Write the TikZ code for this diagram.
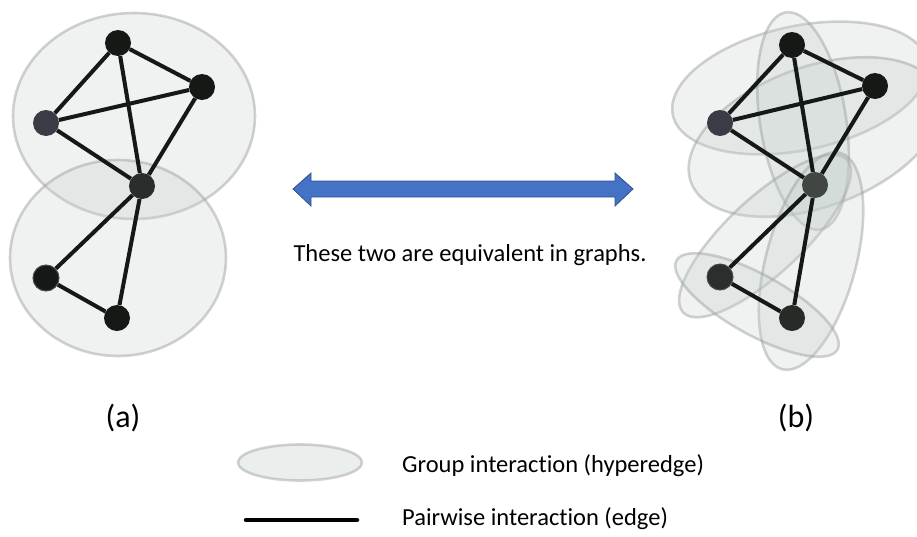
\documentclass[tikz,border=0pt]{standalone}
\usepackage{fontspec}
\setmainfont{Carlito}[Ligatures=NoCommon]
\pgfdeclarelayer{bg}
\pgfdeclarelayer{edgelayer}
\pgfsetlayers{bg,edgelayer,main}
\definecolor{hfill}{HTML}{C4CFCB}
\definecolor{hdraw}{HTML}{9A9C9C}
\definecolor{vdark}{HTML}{161816}
\definecolor{vblue}{HTML}{3A3B45}
\definecolor{vcenA}{HTML}{2A2D2B}
\definecolor{vcenB}{HTML}{414642}
\definecolor{vblB}{HTML}{2A2E2C}
\definecolor{vbotB}{HTML}{262B28}
\definecolor{vring}{HTML}{464850}
\definecolor{arrowblue}{HTML}{4472C4}
\definecolor{arrowedge}{HTML}{2F528F}
\tikzset{
  hyper/.style={fill=hfill, fill opacity=0.28, draw=hdraw, draw opacity=0.45, line width=2.6pt},
  vert/.style={circle, minimum size=26pt, inner sep=0pt, fill=#1},
  vert/.default=vdark,
  pair/.style={draw=vdark, line width=4pt},
  lbl/.style={font=\fontsize{24.5}{29}\selectfont, text=black, inner sep=0pt},
  big/.style={font=\fontsize{32}{38}\selectfont, text=black, inner sep=0pt},
  leg/.style={font=\fontsize{24.5}{29}\selectfont, text=black, inner sep=0pt, anchor=base west}
}
\begin{document}
\begin{tikzpicture}[x=1pt,y=-1pt]
\useasboundingbox (0,0) rectangle (917,536);
\clip (0,0) rectangle (917,536);
% ---------- graph (a) ----------
\node[vert] (a1) at (118,43) {};
\node[vert] (a2) at (202,87) {};
\node[vert=vblue] (a3) at (46,123) {};
\node[vert=vcenA] (a4) at (142,186) {};
\node[vert, draw=vring, line width=1pt] (a5) at (46,278) {};
\node[vert] (a6) at (117,318) {};
\begin{pgfonlayer}{edgelayer}
\draw[pair] (a1) -- (a2) (a1) -- (a3) (a1) -- (a4) (a3) -- (a2)
  (a3) -- (a4) (a2) -- (a4) (a4) -- (a5) (a4) -- (a6) (a5) -- (a6);
\end{pgfonlayer}
\begin{pgfonlayer}{bg}
\draw[hyper] (134,116) ellipse [x radius=121, y radius=103];
\draw[hyper] (118,258) ellipse [x radius=108, y radius=98];
\end{pgfonlayer}
% ---------- graph (b) ----------
\node[vert] (b1) at (792,45) {};
\node[vert] (b2) at (875,86) {};
\node[vert=vblue] (b3) at (720,123) {};
\node[vert=vcenB] (b4) at (815,185) {};
\node[vert=vblB, draw=vring, line width=1pt] (b5) at (720,277) {};
\node[vert=vbotB] (b6) at (792,318) {};
\begin{pgfonlayer}{edgelayer}
\draw[pair] (b1) -- (b2) (b1) -- (b3) (b1) -- (b4) (b3) -- (b2)
  (b3) -- (b4) (b2) -- (b4) (b4) -- (b5) (b4) -- (b6) (b5) -- (b6);
\end{pgfonlayer}
\begin{pgfonlayer}{bg}
\draw[hyper, rotate around={12:(800,88)}] (800,88) ellipse [x radius=130, y radius=62];
\draw[hyper, rotate around={20:(815,137)}] (815,137) ellipse [x radius=132, y radius=70];
\draw[hyper, rotate around={99:(803,121)}] (803,121) ellipse [x radius=110, y radius=43];
\draw[hyper, rotate around={43:(765,236)}] (765,236) ellipse [x radius=112, y radius=38];
\draw[hyper, rotate around={75:(811,261)}] (811,261) ellipse [x radius=112, y radius=45];
\draw[hyper, rotate around={-29:(757,305)}] (757,305) ellipse [x radius=92, y radius=30];
\end{pgfonlayer}
% ---------- arrow ----------
\draw[fill=arrowblue, draw=arrowedge, line width=0.8pt, line join=miter]
  (293,189) -- (311,173) -- (311,181) -- (615,181) -- (615,173) -- (633,189)
  -- (615,206) -- (615,197) -- (311,197) -- (311,206) -- cycle;
\node[lbl, anchor=base] (eq) at (470,261) {These two are equivalent in graphs.};
% ---------- captions ----------
\node[big] (capa) at (123,418) {(a)};
\node[big] (capb) at (796,418) {(b)};
% ---------- legend ----------
\draw[fill=hfill, fill opacity=0.35, draw=hdraw, draw opacity=0.45, line width=2.6pt] (300,462.5) ellipse [x radius=62, y radius=18];
\draw[draw=black, line width=4.5pt, line cap=round] (246,520) -- (357,520);
\node[leg] (lg1) at (402,472) {Group interaction (hyperedge)};
\node[leg] (lg2) at (402,525) {Pairwise interaction (edge)};
\end{tikzpicture}
\end{document}
